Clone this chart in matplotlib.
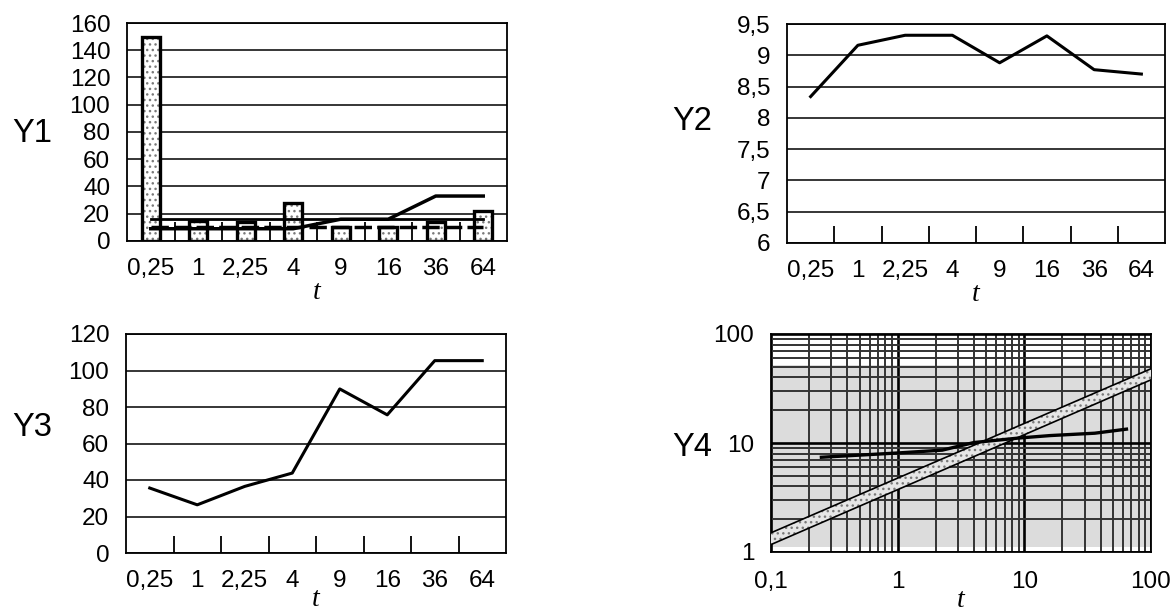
import numpy as np
import matplotlib.pyplot as plt
from matplotlib.ticker import FixedLocator, NullFormatter, FixedFormatter

plt.rcParams['font.family'] = ['Liberation Sans', 'DejaVu Sans']
plt.rcParams['hatch.linewidth'] = 1.0

# data
cats = ['0,25', '1', '2,25', '4', '9', '16', '36', '64']
t_vals = [0.25, 1, 2.25, 4, 9, 16, 36, 64]

y1_bars = [150, 15, 14, 28, 10, 10, 14, 22]
y1_step = [9, 9, 9, 9, 16, 16, 33, 33]
y1_flat = [16, 16, 16, 16, 16, 16, 16, 16]
y1_dash = [10.5, 10.5, 10.5, 10.5, 10.5, 10.5, 10.5, 10.5]

y2 = [8.34, 9.16, 9.32, 9.32, 8.88, 9.31, 8.77, 8.70]
y3 = [35.6, 26.4, 36.5, 43.8, 89.9, 75.7, 105.4, 105.4]

y4_curve = [7.4, 8.1, 8.6, 10.1, 11.1, 11.7, 12.3, 13.4]
band_t = [0.1, 100]
band_hi = [1.5, 48]
band_lo = [1.17, 38]

W, H = 1173, 614
fig = plt.figure(figsize=(W / 100, H / 100), dpi=100)

def box(l, t, r, b):
    return fig.add_axes([l / W, 1 - b / H, (r - l) / W, (b - t) / H])

tick_fs = 17.5

def cat_axes(ax, ymin, ymax, ystep, yfmt):
    x = np.arange(len(cats))
    ax.set_xlim(-0.5, len(cats) - 0.5)
    ax.set_ylim(ymin, ymax)
    yt = np.arange(ymin, ymax + ystep / 2, ystep)
    ax.set_yticks(yt)
    ax.set_yticklabels([yfmt(v) for v in yt])
    ax.xaxis.set_major_locator(FixedLocator(x[:-1] + 0.5))
    ax.xaxis.set_major_formatter(NullFormatter())
    ax.xaxis.set_minor_locator(FixedLocator(x))
    ax.xaxis.set_minor_formatter(FixedFormatter(cats))
    ax.tick_params(axis='x', which='major', direction='in', length=12, width=1.3, color='black')
    ax.tick_params(axis='x', which='minor', length=0, pad=12, labelsize=tick_fs)
    ax.tick_params(axis='y', length=0, pad=12, labelsize=tick_fs)
    ax.grid(axis='y', color='black', lw=1.1)
    ax.set_axisbelow(True)
    for s in ax.spines.values():
        s.set_linewidth(1.3)
    ax.set_xlabel('t', fontsize=20, family='Liberation Serif', style='italic', labelpad=0)
    return x

def comma(v):
    s = ('%g' % v).replace('.', ',')
    return s

# Y1
ax1 = box(127, 23, 507, 241)
x = cat_axes(ax1, 0, 160, 20, comma)
ax1.bar(x, y1_bars, width=0.38, color='white', edgecolor='#7a7a7a', hatch='...', lw=0, zorder=2)
ax1.bar(x, y1_bars, width=0.38, fill=False, edgecolor='black', lw=2.4, zorder=3)
ax1.plot(x, y1_dash, color='black', lw=2.5, ls=(0, (5, 1.5)), zorder=4)
ax1.plot(x, y1_flat, color='black', lw=2, zorder=4)
ax1.plot(x, y1_step, color='black', lw=2.5, zorder=4)
ax1.tick_params(axis='x', which='major', length=14)

# Y2
ax2 = box(787, 24, 1165, 243)
x = cat_axes(ax2, 6, 9.5, 0.5, comma)
ax2.plot(x, y2, color='black', lw=2.2)

# Y3
ax3 = box(126, 334, 506, 553)
x = cat_axes(ax3, 0, 120, 20, comma)
ax3.plot(x, y3, color='black', lw=2.2)
ax3.xaxis.labelpad = -3

# Y4
ax4 = box(771, 334, 1151, 552)
ax4.set_xscale('log')
ax4.set_yscale('log')
ax4.set_xlim(0.1, 100)
ax4.set_ylim(1, 100)
ax4.axhspan(1.12, 52, color='#dcdcdc', lw=0, zorder=0)
ax4.set_xticks([0.1, 1, 10, 100])
ax4.set_xticklabels(['0,1', '1', '10', '100'])
ax4.set_yticks([1, 10, 100])
ax4.set_yticklabels(['1', '10', '100'])
ax4.tick_params(which='both', length=0)
ax4.tick_params(axis='x', pad=14, labelsize=tick_fs)
ax4.tick_params(axis='y', pad=12, labelsize=tick_fs)
ax4.grid(which='minor', color='#333333', lw=1.4)
ax4.grid(which='major', color='black', lw=1.9)
ax4.set_axisbelow(True)
for s in ax4.spines.values():
    s.set_linewidth(1.3)
ax4.fill_between(band_t, band_lo, band_hi, facecolor='#e6e6e6', edgecolor='#7a7a7a', hatch='...', lw=0, zorder=3)
ax4.plot(band_t, band_hi, color='black', lw=1.2, zorder=4)
ax4.plot(band_t, band_lo, color='black', lw=1.2, zorder=4)
ax4.plot(t_vals, y4_curve, color='black', lw=2.4, zorder=5)
ax4.set_xlabel('t', fontsize=20, family='Liberation Serif', style='italic', labelpad=-4)

# row labels
fig.text(12 / W, 1 - 133 / H, 'Y1', fontsize=23.5, va='center', ha='left')
fig.text(672 / W, 1 - 122 / H, 'Y2', fontsize=23.5, va='center', ha='left')
fig.text(12 / W, 1 - 427 / H, 'Y3', fontsize=23.5, va='center', ha='left')
fig.text(672 / W, 1 - 447 / H, 'Y4', fontsize=23.5, va='center', ha='left')

fig.savefig('out.png', dpi=100)
